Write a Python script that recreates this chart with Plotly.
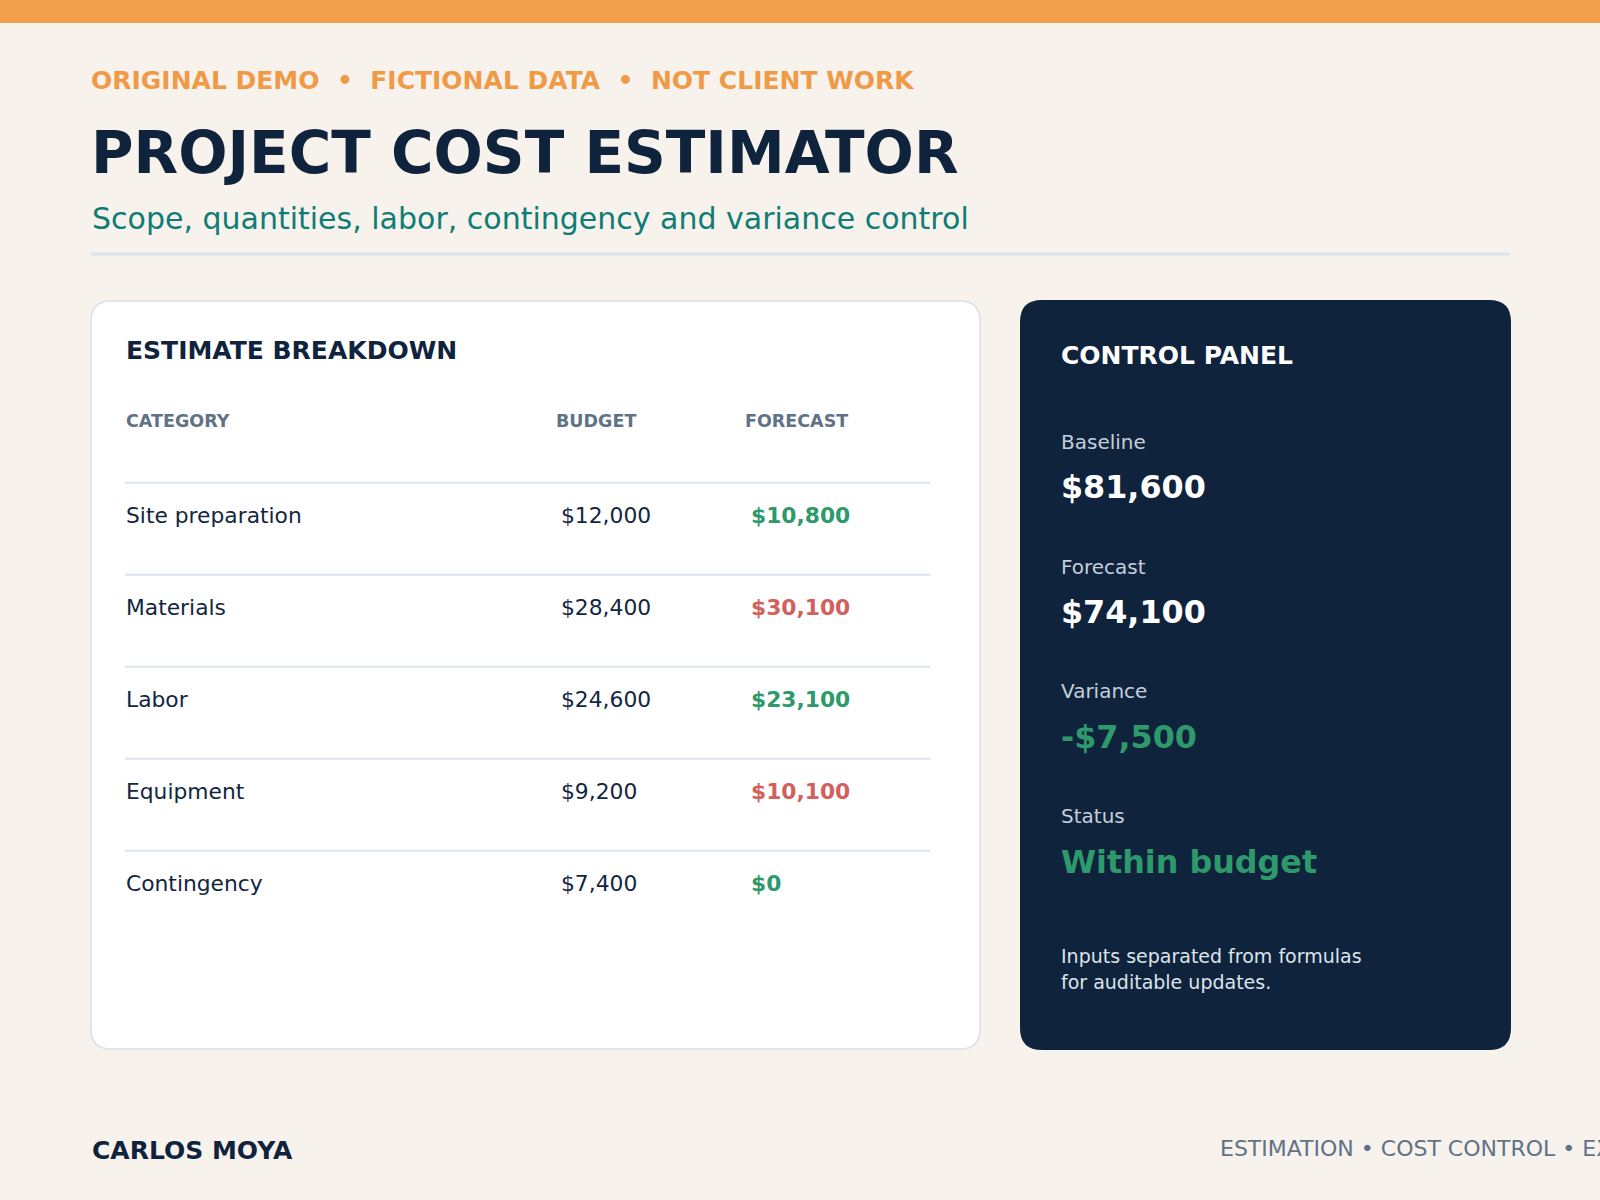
import plotly.graph_objects as go

# ---- data ----
categories = ["Site preparation", "Materials", "Labor", "Equipment", "Contingency"]
budget = [12000, 28400, 24600, 9200, 7400]
forecast = [10800, 30100, 23100, 10100, 0]
columns = ["CATEGORY", "BUDGET", "FORECAST"]
panel_labels = ["Baseline", "Forecast", "Variance", "Status"]
tags = ["ORIGINAL DEMO", "FICTIONAL DATA", "NOT CLIENT WORK"]
skills = ["ESTIMATION", "COST CONTROL", "EXCEL MODELING"]
note_lines = ["Inputs separated from formulas", "for auditable updates."]

baseline_total = sum(budget)
forecast_total = sum(forecast)
variance = forecast_total - baseline_total
status = "Within budget" if variance <= 0 else "Over budget"


def money(v):
    return f"-${abs(v):,}" if v < 0 else f"${v:,}"


# ---- styling ----
W, H = 1600, 1200
FONT = "DejaVu Sans"
BG = "#F7F3EC"
ORANGE = "#F3A04D"
NAVY = "#10233D"
INK = "#132640"
TEAL = "#0F7C76"
GREY = "#5F7286"
RULE = "#DCE3EA"
GREEN = "#2E9A6B"
RED = "#D2605C"

ROW0, ROW_STEP = 607 - 92, 92   # pixel centre of first row, row pitch
COL_X = [124.5, 554.5, 744]      # header x positions
CELL_X = [124.5, 559.5, 749.5]   # cell x positions

fig = go.Figure()

# row separators, one per row, drawn on the row axis
sep_x, sep_y = [], []
for i in range(len(categories)):
    sep_x += [125, 930, None]
    sep_y += [i - 0.35, i - 0.35, None]
fig.add_trace(go.Scatter(x=sep_x, y=sep_y, mode="lines",
                         line=dict(color=RULE, width=2),
                         hoverinfo="skip", showlegend=False))
# anchor for the pixel axis
fig.add_trace(go.Scatter(x=[0], y=[0], yaxis="y2", mode="markers",
                         marker=dict(opacity=0), hoverinfo="skip",
                         showlegend=False))


def rounded(x0, y0, x1, y1, r):
    return (f"M{x0+r},{y0} L{x1-r},{y0} Q{x1},{y0} {x1},{y0+r} "
            f"L{x1},{y1-r} Q{x1},{y1} {x1-r},{y1} L{x0+r},{y1} "
            f"Q{x0},{y1} {x0},{y1-r} L{x0},{y0+r} Q{x0},{y0} {x0+r},{y0} Z")


shapes = [
    dict(type="rect", x0=0, x1=W, y0=0, y1=23, fillcolor=ORANGE, line_width=0),
    dict(type="line", x0=91, x1=1510, y0=254, y1=254, line=dict(color=RULE, width=3)),
    dict(type="path", path=rounded(91, 301, 980, 1049, 20), fillcolor="white",
         line=dict(color="#D8E0E8", width=1.5)),
    dict(type="path", path=rounded(1020, 300, 1511, 1050, 22), fillcolor=NAVY,
         line_width=0),
]
for s in shapes:
    s.update(xref="x", yref="y2", layer="below")

annotations = []


def txt(x, y, text, size, color, weight="normal", yref="y2"):
    annotations.append(dict(x=x, y=y, xref="x", yref=yref, text=text,
                            showarrow=False, xanchor="left", yanchor="middle",
                            borderpad=0,
                            font=dict(family=FONT, size=size, color=color,
                                      weight=weight)))


tag_sep = "\u00a0\u00a0•\u00a0\u00a0"
txt(90, 80, tag_sep.join(tags), 25, "#F09A48", "bold")
txt(89.5, 152.5, "PROJECT COST ESTIMATOR", 58, NAVY, "bold")
txt(91, 218, "Scope, quantities, labor, contingency and variance control", 30, TEAL)

# estimate breakdown card
txt(124.5, 350.5, "ESTIMATE BREAKDOWN", 25, NAVY, "bold")
for cx, c in zip(COL_X, columns):
    txt(cx, 420.5, c, 17.5, GREY, "bold")
for i, (cat, b, f) in enumerate(zip(categories, budget, forecast)):
    txt(CELL_X[0], i, cat, 21.8, INK, yref="y")
    txt(CELL_X[1], i, money(b), 21.8, INK, yref="y")
    txt(CELL_X[2], i, money(f), 21.8, GREEN if f <= b else RED, "bold", yref="y")

# control panel card
txt(1059.5, 355, "CONTROL PANEL", 25, "white", "bold")
panel_values = [money(baseline_total), money(forecast_total), money(variance), status]
panel_colors = ["white", "white",
                GREEN if variance <= 0 else RED,
                GREEN if variance <= 0 else RED]
for k, (lab, val, col) in enumerate(zip(panel_labels, panel_values, panel_colors)):
    y = 441.8 + 124.8 * k
    txt(1059.5, y, lab, 20, "#C4CFDB")
    txt(1059.5, y + 45, val, 31.8, col, "bold")
for k, line in enumerate(note_lines):
    txt(1059.5, 956 + 25.6 * k, line, 19, "#DCE3EA")

# footer
txt(90.5, 1150.5, "CARLOS MOYA", 25, NAVY, "bold")
txt(1219, 1148, " • ".join(skills), 22, GREY)

fig.update_layout(
    width=W, height=H,
    margin=dict(l=0, r=0, t=0, b=0),
    paper_bgcolor=BG, plot_bgcolor=BG,
    showlegend=False,
    xaxis=dict(range=[0, W], domain=[0, 1], visible=False, fixedrange=True),
    yaxis=dict(range=[(H - ROW0) / ROW_STEP, -ROW0 / ROW_STEP], domain=[0, 1],
               visible=False, fixedrange=True),
    yaxis2=dict(range=[H, 0], overlaying="y", visible=False, fixedrange=True),
    shapes=shapes,
    annotations=annotations,
)

fig.write_html("out.html", config={"displayModeBar": False},
               post_script="document.body.style.margin='0';")
